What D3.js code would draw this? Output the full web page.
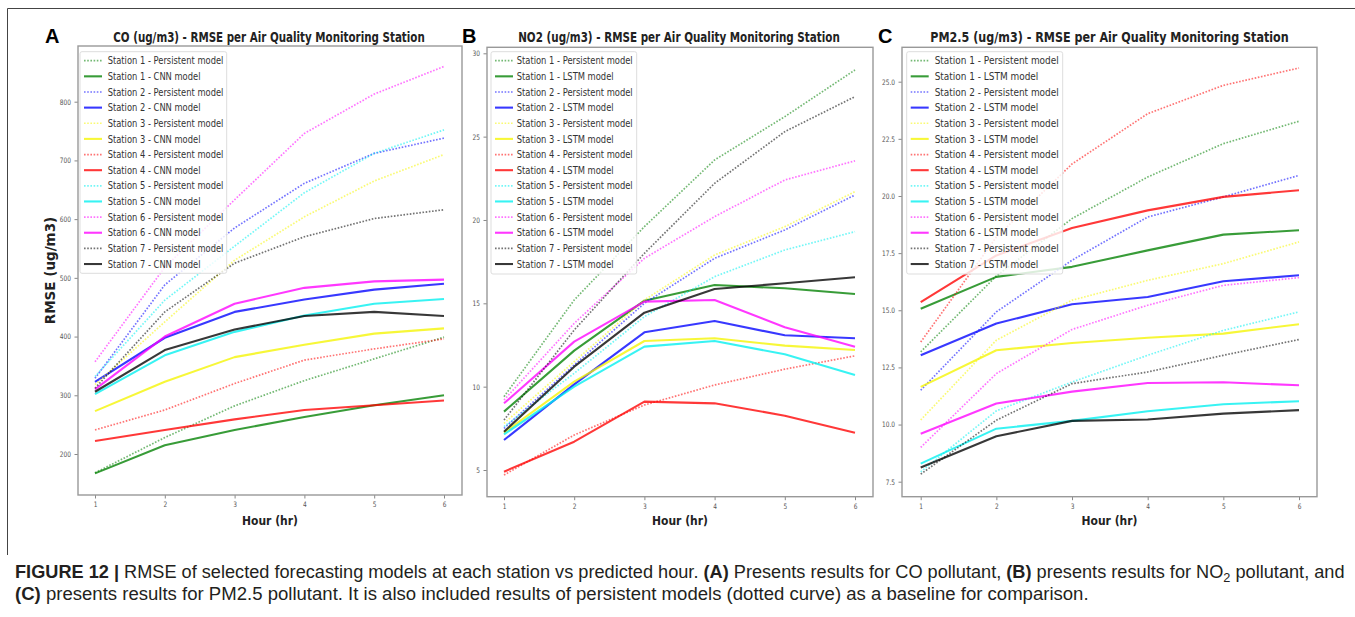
<!DOCTYPE html>
<html>
<head>
<meta charset="utf-8">
<script src="https://cdn.jsdelivr.net/npm/d3@7"></script>
<style>
  body { margin: 0; background: #fff; }
  svg { display: block; font-family: "DejaVu Sans", sans-serif; }
</style>
</head>
<body>
<svg id="fig" width="1355" height="617"></svg>
<script>
// data
var hours = [1, 2, 3, 4, 5, 6];
var stationNames = ["Station 1", "Station 2", "Station 3", "Station 4", "Station 5", "Station 6", "Station 7"];

var coTicks = [200, 300, 400, 500, 600, 700, 800];
var coPersistent = [
  [168, 228, 282, 325, 362, 399],
  [329, 488, 585, 661, 712, 738],
  [318, 425, 530, 604, 665, 710],
  [241, 275, 320, 360, 379, 396],
  [332, 462, 554, 645, 712, 752],
  [357, 518, 633, 746, 813, 860],
  [312, 442, 525, 570, 601, 616]
];
var coCnn = [
  [167, 215, 241, 263, 283, 300],
  [323, 398, 442, 463, 480, 490],
  [273, 323, 365, 386, 405, 414],
  [222, 241, 259, 275, 283, 291],
  [302, 368, 408, 436, 456, 464],
  [310, 400, 456, 483, 494, 497],
  [306, 377, 412, 435, 442, 435]
];

var no2Ticks = [5, 10, 15, 20, 25, 30];
var no2Persistent = [
  [9.4, 15.2, 19.6, 23.6, 26.2, 29.0],
  [7.5, 11.3, 15.0, 17.7, 19.4, 21.5],
  [7.8, 11.5, 15.2, 17.9, 19.6, 21.7],
  [4.7, 7.1, 8.9, 10.1, 11.05, 11.85],
  [7.6, 10.8, 14.2, 16.6, 18.2, 19.3],
  [9.2, 13.8, 17.7, 20.2, 22.4, 23.55],
  [8.0, 13.4, 18.0, 22.2, 25.3, 27.4]
];
var no2Lstm = [
  [8.5, 12.16, 15.16, 16.1, 15.9, 15.56],
  [6.8, 10.14, 13.26, 13.94, 13.08, 12.9],
  [7.24, 10.3, 12.74, 12.9, 12.46, 12.2],
  [4.9, 6.7, 9.1, 9.0, 8.26, 7.24],
  [7.14, 10.0, 12.4, 12.74, 11.94, 10.7],
  [9.0, 12.7, 15.1, 15.2, 13.56, 12.4],
  [7.3, 11.2, 14.44, 15.86, 16.2, 16.56]
];

var pm25Ticks = [7.5, 10, 12.5, 15, 17.5, 20, 22.5, 25];
var pm25Persistent = [
  [13.18, 16.5, 19.01, 20.83, 22.29, 23.27],
  [11.5, 14.93, 17.19, 19.08, 19.96, 20.9],
  [10.2, 13.69, 15.44, 16.31, 17.04, 17.99],
  [13.61, 18.2, 21.4, 23.6, 24.84, 25.6],
  [7.93, 10.6, 11.86, 13.03, 14.12, 14.93],
  [9.0, 12.23, 14.16, 15.22, 16.09, 16.43],
  [7.83, 10.19, 11.79, 12.3, 13.03, 13.72]
];
var pm25Lstm = [
  [15.07, 16.46, 16.9, 17.62, 18.31, 18.5],
  [13.03, 14.42, 15.26, 15.58, 16.27, 16.53],
  [11.65, 13.25, 13.57, 13.8, 13.98, 14.39],
  [15.36, 17.4, 18.6, 19.37, 19.96, 20.25],
  [8.29, 9.82, 10.16, 10.58, 10.89, 11.02],
  [9.6, 10.92, 11.44, 11.82, 11.85, 11.72],
  [8.12, 9.49, 10.16, 10.22, 10.48, 10.63]
];

var colors = ["#008000", "#0000ff", "#f5f500", "#ff0000", "#00f0f0", "#ff00ff", "#000000"];

var svg = d3.select("#fig");

// squeeze text horizontally (the original figure is narrow)
function squeeze(sel, k) {
  sel.each(function () {
    var w = this.getComputedTextLength();
    d3.select(this).attr("textLength", w * k).attr("lengthAdjust", "spacingAndGlyphs");
  });
}

// place a text at (x,y) and scale it to a given width
function fitText(t, x, y, w) {
  var k = w / t.node().getComputedTextLength();
  t.attr("transform", "translate(" + x + "," + y + ") scale(" + k + ",1)");
}

// outer figure border
svg.append("path")
  .attr("d", "M7.5,555 V8.5 H1355")
  .attr("fill", "none")
  .attr("stroke", "#444")
  .attr("stroke-width", 1);

var panels = [
  { letter: "A", title: "CO (ug/m3) - RMSE per Air Quality Monitoring Station", model: "CNN",
    pers: coPersistent, mod: coCnn, ticks: coTicks, fmt: d3.format("d"),
    box: [78, 46, 462, 495], xr: [95, 444], yd: [200, 800], yr: [454, 101.7],
    leg: [80, 51.7, 146.7, 221.6], legTextW: 115.7, legTextX: 27.7,
    titleX: 269, titleW: 312, letterX: 45 },
  { letter: "B", title: "NO2 (ug/m3) - RMSE per Air Quality Monitoring Station", model: "LSTM",
    pers: no2Persistent, mod: no2Lstm, ticks: no2Ticks, fmt: d3.format("d"),
    box: [487, 47.3, 873, 496.7], xr: [504, 855], yd: [5, 30], yr: [470, 53.3],
    leg: [491, 51.7, 145.7, 222.3], legTextW: 116, legTextX: 25.7,
    titleX: 679, titleW: 322, letterX: 462 },
  { letter: "C", title: "PM2.5 (ug/m3) - RMSE per Air Quality Monitoring Station", model: "LSTM",
    pers: pm25Persistent, mod: pm25Lstm, ticks: pm25Ticks, fmt: d3.format(".1f"),
    box: [902, 47.3, 1317, 496.7], xr: [920.7, 1299], yd: [7.5, 25], yr: [481.7, 81.7],
    leg: [906.7, 51.7, 156, 222.3], legTextW: 124, legTextX: 28,
    titleX: 1109.5, titleW: 359, letterX: 878 }
];

panels.forEach(function (p) {
  var x = d3.scaleLinear().domain([1, 6]).range(p.xr);
  var y = d3.scaleLinear().domain(p.yd).range(p.yr);
  var g = svg.append("g");

  // axes
  var ya = g.append("g")
    .attr("transform", "translate(" + p.box[0] + ",0)")
    .call(d3.axisLeft(y).tickValues(p.ticks).tickFormat(p.fmt).tickSize(3.5).tickPadding(3.5));
  var xa = g.append("g")
    .attr("transform", "translate(0," + p.box[3] + ")")
    .call(d3.axisBottom(x).tickValues(hours).tickFormat(d3.format("d")).tickSize(3.5).tickPadding(3));
  [ya, xa].forEach(function (a) {
    a.select(".domain").remove();
    a.selectAll("line").attr("stroke", "#888");
    a.selectAll("text").attr("fill", "#555").style("font-size", "7.5px").style("font-family", "DejaVu Sans");
    squeeze(a.selectAll("text"), 0.78);
  });

  // lines
  var line = d3.line().x(function (d, i) { return x(hours[i]); }).y(function (d) { return y(d); });
  stationNames.forEach(function (s, i) {
    g.append("path")
      .attr("d", line(p.pers[i]))
      .attr("fill", "none")
      .attr("stroke", colors[i])
      .attr("stroke-opacity", 0.55)
      .attr("stroke-width", 1.7)
      .attr("stroke-dasharray", "1.6,1.6");
    g.append("path")
      .attr("d", line(p.mod[i]))
      .attr("fill", "none")
      .attr("stroke", colors[i])
      .attr("stroke-opacity", 0.78)
      .attr("stroke-width", 2.1)
      .attr("stroke-linejoin", "round");
  });

  // frame
  g.append("rect")
    .attr("x", p.box[0]).attr("y", p.box[1])
    .attr("width", p.box[2] - p.box[0]).attr("height", p.box[3] - p.box[1])
    .attr("fill", "none").attr("stroke", "#999").attr("stroke-width", 1.4);

  // legend
  var lg = g.append("g").attr("transform", "translate(" + p.leg[0] + "," + p.leg[1] + ")");
  lg.append("rect")
    .attr("width", p.leg[2]).attr("height", p.leg[3]).attr("rx", 2)
    .attr("fill", "#fff").attr("fill-opacity", 0.82)
    .attr("stroke", "#ddd").attr("stroke-width", 1);
  var entries = [];
  stationNames.forEach(function (s, i) {
    entries.push({ label: s + " - Persistent model", color: colors[i], dotted: true });
    entries.push({ label: s + " - " + p.model + " model", color: colors[i], dotted: false });
  });
  var rows = lg.selectAll("g.row").data(entries).enter().append("g")
    .attr("transform", function (d, i) { return "translate(0," + (9 + i * 15.64) + ")"; });
  rows.append("line")
    .attr("x1", 4).attr("x2", 22)
    .attr("stroke", function (d) { return d.color; })
    .attr("stroke-opacity", function (d) { return d.dotted ? 0.55 : 0.78; })
    .attr("stroke-width", function (d) { return d.dotted ? 1.7 : 2.1; })
    .attr("stroke-dasharray", function (d) { return d.dotted ? "1.6,1.6" : null; });
  var lt = rows.append("text")
    .attr("x", p.legTextX).attr("y", 3.6)
    .attr("fill", "#333")
    .style("font-size", "10px")
    .text(function (d) { return d.label; });
  var longest = d3.max(lt.nodes(), function (n) { return n.getComputedTextLength(); });
  squeeze(lt, p.legTextW / longest);

  // title
  var t = g.append("text")
    .attr("text-anchor", "middle")
    .attr("fill", "#222")
    .style("font-size", "13.5px").style("font-weight", "bold")
    .text(p.title);
  fitText(t, p.titleX, 41.5, p.titleW);

  // panel letter
  g.append("text")
    .attr("x", p.letterX).attr("y", 43)
    .attr("fill", "#000")
    .style("font-family", "Liberation Sans, Arial, sans-serif")
    .style("font-size", "20px").style("font-weight", "bold")
    .text(p.letter);

  // x label
  var xl = g.append("text")
    .attr("text-anchor", "middle")
    .attr("fill", "#222")
    .style("font-size", "13px").style("font-weight", "bold")
    .text("Hour (hr)");
  fitText(xl, (p.box[0] + p.box[2]) / 2, 525, 56);

  if (p.letter === "A") {
    g.append("text")
      .attr("transform", "translate(55,270.5) rotate(-90)")
      .attr("text-anchor", "middle")
      .attr("fill", "#222")
      .style("font-size", "13.5px").style("font-weight", "bold")
      .text("RMSE (ug/m3)");
  }
});

// caption
var capFont = "Liberation Sans, Arial, sans-serif";
var cap1 = svg.append("text").attr("fill", "#231f20")
  .style("font-family", capFont).style("font-size", "18.5px");
cap1.append("tspan").style("font-weight", "bold").text("FIGURE 12 | ");
cap1.append("tspan").text("RMSE of selected forecasting models at each station vs predicted hour. ");
cap1.append("tspan").style("font-weight", "bold").text("(A)");
cap1.append("tspan").text(" Presents results for CO pollutant, ");
cap1.append("tspan").style("font-weight", "bold").text("(B)");
cap1.append("tspan").text(" presents results for NO");
cap1.append("tspan").style("font-size", "13px").attr("dy", 3.5).text("2");
cap1.append("tspan").attr("dy", -3.5).text(" pollutant, and");

var cap2 = svg.append("text").attr("fill", "#231f20")
  .style("font-family", capFont).style("font-size", "18.5px");
cap2.append("tspan").style("font-weight", "bold").text("(C)");
cap2.append("tspan").text(" presents results for PM2.5 pollutant. It is also included results of persistent models (dotted curve) as a baseline for comparison.");

var k1 = 1330 / cap1.node().getBBox().width;
var k2 = 1075 / cap2.node().getBBox().width;
cap1.attr("transform", "translate(15,578) scale(" + k1 + ",1)");
cap2.attr("transform", "translate(15,600) scale(" + k2 + ",1)");
</script>
</body>
</html>
